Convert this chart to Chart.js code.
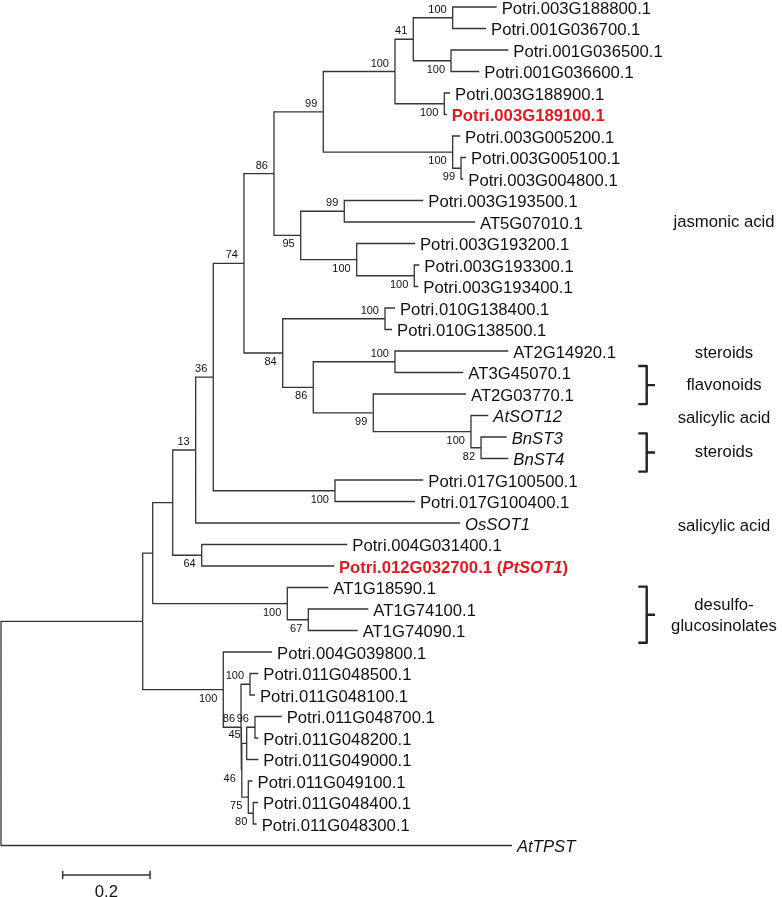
<!DOCTYPE html>
<html>
<head>
<meta charset="utf-8">
<script src="https://cdn.jsdelivr.net/npm/chart.js@4.4.1/dist/chart.umd.min.js"></script>
<style>
body { margin: 0; background: #fff; }
canvas { display: block; }
</style>
</head>
<body>
<canvas id="tree" width="782" height="897"></canvas>
<script>
// leaves, top to bottom (row index = y value)
const leafNames = [
    'Potri.003G188800.1', 'Potri.001G036700.1', 'Potri.001G036500.1', 'Potri.001G036600.1',
    'Potri.003G188900.1', 'Potri.003G189100.1', 'Potri.003G005200.1', 'Potri.003G005100.1',
    'Potri.003G004800.1', 'Potri.003G193500.1', 'AT5G07010.1', 'Potri.003G193200.1',
    'Potri.003G193300.1', 'Potri.003G193400.1', 'Potri.010G138400.1', 'Potri.010G138500.1',
    'AT2G14920.1', 'AT3G45070.1', 'AT2G03770.1', 'AtSOT12', 'BnST3', 'BnST4',
    'Potri.017G100500.1', 'Potri.017G100400.1', 'OsSOT1', 'Potri.004G031400.1',
    'Potri.012G032700.1 (PtSOT1)', 'AT1G18590.1', 'AT1G74100.1', 'AT1G74090.1',
    'Potri.004G039800.1', 'Potri.011G048500.1', 'Potri.011G048100.1', 'Potri.011G048700.1',
    'Potri.011G048200.1', 'Potri.011G049000.1', 'Potri.011G049100.1', 'Potri.011G048400.1',
    'Potri.011G048300.1', 'AtTPST'
];
// distance from root to each tip
const leafEnd = [
    1.1351, 1.1106, 1.1617, 1.0953, 1.0282, 1.0206, 1.0511, 1.0648,
    1.0586, 0.9670, 1.0854, 0.9480, 0.9579, 0.9556, 0.9022, 0.8954,
    1.1617, 1.0586, 1.0648, 1.1159, 1.1580, 1.1617, 0.9670, 0.9480,
    1.0511, 0.7930, 0.7625, 0.7495, 0.8411, 0.8168, 0.6206, 0.5892,
    0.5816, 0.6428, 0.5892, 0.5892, 0.5759, 0.5885, 0.5855, 1.1701
];
const redLeaves = [5, 26];
const italicLeaves = [19, 20, 21, 24, 39];

// internal nodes: id, distance from root, upper child, lower child, bootstrap, label side
const nodeRows = [
    ['root', 0, 'A', 39, null, ''],
    ['A', 0.3245, 'B', 'F', null, ''],
    ['B', 0.3474, 'C', 'AT1', null, ''],
    ['C', 0.3932, 'D', 'P64', null, ''],
    ['D', 0.4458, 'E', 24, 13, 'a'],
    ['E', 0.4861, 'T74', 'N100i', 36, 'a'],
    ['T74', 0.5564, 'N86', 'N84', 74, 'a'],
    ['N86', 0.6251, 'N99', 'N95', 86, 'a'],
    ['N99', 0.7380, 'N100a', 'N100c', 99, 'a'],
    ['N100a', 0.9022, 'N41', 'N100b', 100, 'a'],
    ['N41', 0.9441, 'P1', 'P2', 41, 'a'],
    ['P1', 1.0343, 0, 1, 100, 'a'],
    ['P2', 1.0305, 2, 3, 100, 'b'],
    ['N100b', 1.0151, 4, 5, 100, 'b'],
    ['N100c', 1.0343, 6, 'N99b', 100, 'b'],
    ['N99b', 1.0534, 7, 8, 99, 'b'],
    ['N95', 0.6863, 'N99c', 'N100d', 95, 'b'],
    ['N99c', 0.7861, 9, 10, 99, 'a'],
    ['N100d', 0.8145, 11, 'N100e', 100, 'b'],
    ['N100e', 0.9464, 12, 13, 100, 'b'],
    ['N84', 0.6451, 'N100f', 'N86b', 84, 'b'],
    ['N100f', 0.8793, 14, 15, 100, 'a'],
    ['N86b', 0.7151, 'N100g', 'N99d', 86, 'b'],
    ['N100g', 0.9022, 16, 17, 100, 'a'],
    ['N99d', 0.8525, 18, 'N100h', 99, 'b'],
    ['N100h', 1.0762, 19, 'N82', 100, 'b'],
    ['N82', 1.0992, 20, 21, 82, 'b'],
    ['N100i', 0.7648, 22, 23, 100, 'b'],
    ['P64', 0.4596, 25, 26, 64, 'b'],
    ['AT1', 0.6556, 27, 'N67', 100, 'b'],
    ['N67', 0.7037, 28, 29, 67, 'b'],
    ['F', 0.5090, 30, 'G', 100, 'b'],
    ['G', 0.5496, 'H', 'K', 86, 'a'],
    ['H', 0.5702, 31, 32, 100, 'a'],
    ['K', 0.5514, 'N', 'M', 46, 'b'],
    ['N', 0.5626, 'I', 35, 45, 'a'],
    ['I', 0.5816, 33, 34, 96, 'a'],
    ['M', 0.5663, 36, 'Q', 75, 'b'],
    ['Q', 0.5777, 37, 38, 80, 'b']
];

// substrate groups on the right
const groupNames = ['jasmonic acid', 'steroids', 'flavonoids', 'salicylic acid', 'steroids', 'salicylic acid', 'desulfo-', 'glucosinolates'];
const groupRows = [10.03, 16.11, 17.61, 19.13, 20.71, 24.14, 27.81, 28.82];
const groupX = 1.6556;
const bracketSpans = [[16.70, 18.47], [19.83, 21.61], [26.96, 29.57]];
const bracketX = [1.4594, 1.4786, 1.4977];

const scaleStart = 0.1413, scaleLen = 0.2, scaleRow = 40.37;

const TREE = '#353535';
const RED = '#e3191f';
const FONT = '"Liberation Sans", Arial, sans-serif';

var nodeMap = {};
nodeRows.forEach(r => { nodeMap[r[0]] = {id: r[0], x: r[1], up: r[2], lo: r[3], bs: r[4], side: r[5]}; });

function yOf(c) {
    if (typeof c === 'number') return c;
    let n = nodeMap[c];
    if (n.y === undefined) n.y = (yOf(n.up) + yOf(n.lo)) / 2;
    return n.y;
}
function xOf(c) {
    return (typeof c === 'number') ? leafEnd[c] : nodeMap[c].x;
}

// elbow segments parent -> child, broken by null points
let treePts = [];
nodeRows.forEach(r => {
    let n = nodeMap[r[0]];
    let y = yOf(n.id);
    [n.up, n.lo].forEach(c => {
        treePts.push({x: n.x, y: y}, {x: n.x, y: yOf(c)}, {x: xOf(c), y: yOf(c)}, {x: n.x, y: null});
    });
});

let bracketPts = [];
bracketSpans.forEach(s => {
    let mid = (s[0] + s[1]) / 2;
    bracketPts.push({x: bracketX[0], y: s[0]}, {x: bracketX[1], y: s[0]}, {x: bracketX[1], y: s[1]}, {x: bracketX[0], y: s[1]}, {x: bracketX[0], y: null});
    bracketPts.push({x: bracketX[1], y: mid}, {x: bracketX[2], y: mid}, {x: bracketX[2], y: null});
});

let scalePts = [
    {x: scaleStart, y: scaleRow - 0.19}, {x: scaleStart, y: scaleRow + 0.19}, {x: scaleStart, y: null},
    {x: scaleStart, y: scaleRow}, {x: scaleStart + scaleLen, y: scaleRow}, {x: scaleStart, y: null},
    {x: scaleStart + scaleLen, y: scaleRow - 0.19}, {x: scaleStart + scaleLen, y: scaleRow + 0.19}
];

const textPlugin = {
    id: 'treeText',
    afterDatasetsDraw(chart) {
        let ctx = chart.ctx, xs = chart.scales.x, ys = chart.scales.y;
        ctx.save();
        ctx.textBaseline = 'middle';
        ctx.textAlign = 'left';

        // leaf names
        leafNames.forEach((name, i) => {
            let px = xs.getPixelForValue(leafEnd[i]) + 5;
            let py = ys.getPixelForValue(i) + 2;
            let red = redLeaves.includes(i);
            let ital = italicLeaves.includes(i);
            ctx.fillStyle = red ? RED : '#111';
            let parts = [[name, ital]];
            if (name.indexOf('(') > 0) {
                let a = name.indexOf('('), b = name.indexOf(')');
                parts = [[name.slice(0, a + 1), false], [name.slice(a + 1, b), true], [name.slice(b), false]];
            }
            parts.forEach(p => {
                ctx.font = (p[1] ? 'italic ' : '') + (red ? 'bold ' : '') + '16.7px ' + FONT;
                ctx.fillText(p[0], px, py);
                px += ctx.measureText(p[0]).width;
            });
        });

        // bootstrap values
        ctx.fillStyle = '#111';
        ctx.textAlign = 'right';
        ctx.font = '11px ' + FONT;
        nodeRows.forEach(r => {
            let n = nodeMap[r[0]];
            if (n.bs === null) return;
            let px = xs.getPixelForValue(n.x) - 6;
            let py = ys.getPixelForValue(yOf(n.id)) + (n.side === 'a' ? -8 : 9);
            ctx.fillText(String(n.bs), px, py);
        });

        // group labels
        ctx.fillStyle = '#111';
        ctx.textAlign = 'center';
        ctx.font = '16.7px ' + FONT;
        groupNames.forEach((g, i) => {
            ctx.fillText(g, xs.getPixelForValue(groupX), ys.getPixelForValue(groupRows[i]));
        });

        // scale label
        ctx.fillText(String(scaleLen), xs.getPixelForValue(scaleStart + scaleLen / 2), ys.getPixelForValue(scaleRow) + 17);
        ctx.restore();
    }
};

const pxPerUnit = 436.7, rowPx = 21.5;
new Chart(document.getElementById('tree'), {
    type: 'line',
    data: {
        datasets: [
            {data: treePts, borderColor: TREE, borderWidth: 1.3, pointRadius: 0, tension: 0, borderJoinStyle: 'miter', borderCapStyle: 'butt'},
            {data: bracketPts, borderColor: '#222', borderWidth: 2.4, pointRadius: 0, tension: 0, borderJoinStyle: 'round', borderCapStyle: 'butt'},
            {data: scalePts, borderColor: TREE, borderWidth: 1.5, pointRadius: 0, tension: 0, borderCapStyle: 'butt'}
        ]
    },
    options: {
        responsive: false,
        devicePixelRatio: 1,
        animation: false,
        layout: {padding: 0},
        plugins: {legend: {display: false}, tooltip: {enabled: false}},
        scales: {
            x: {type: 'linear', display: false, min: -1 / pxPerUnit, max: 781 / pxPerUnit},
            y: {type: 'linear', display: false, reverse: true, min: -7 / rowPx, max: 890 / rowPx}
        }
    },
    plugins: [textPlugin]
});
</script>
</body>
</html>
